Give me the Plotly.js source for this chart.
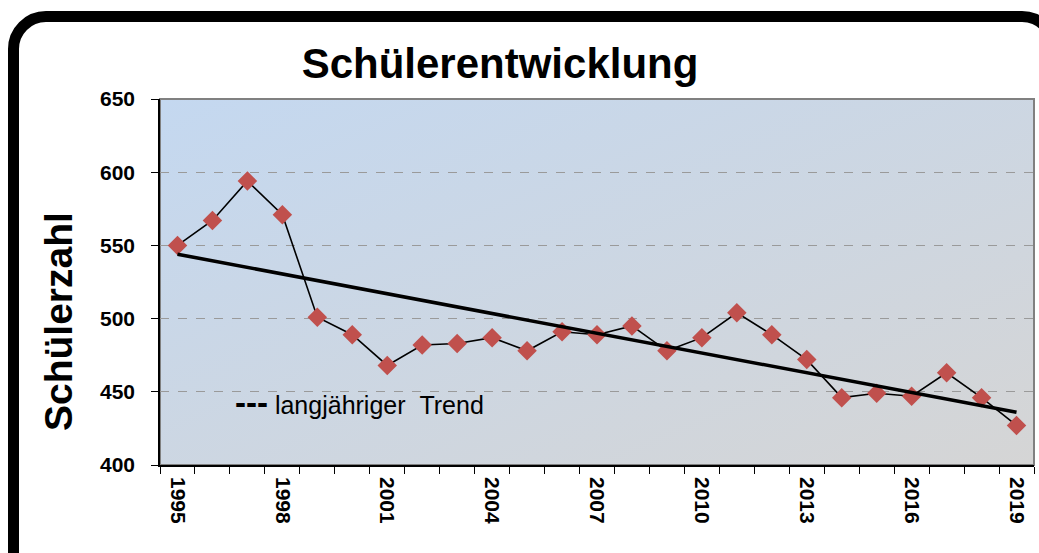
<!DOCTYPE html>
<html>
<head>
<meta charset="utf-8">
<script src="https://cdn.plot.ly/plotly-3.0.1.min.js"></script>
<style>
  body { margin: 0; background: #fff; }
  #rahmen { position: absolute; left: 8px; top: 11px; width: 1052px; height: 620px;
            border: 11px solid #000; border-radius: 38px; box-sizing: border-box; }
  #chart { position: absolute; left: 0; top: 0; width: 1039px; height: 553px; }
</style>
</head>
<body>
<div id="rahmen"></div>
<div id="chart"></div>
<script>
const jahre = [1995, 1996, 1997, 1998, 1999, 2000, 2001, 2002, 2003, 2004, 2005, 2006,
  2007, 2008, 2009, 2010, 2011, 2012, 2013, 2014, 2015, 2016, 2017, 2018, 2019];
const schueler = [550, 567, 594, 571, 501, 489, 468, 482, 483, 487, 478, 491,
  489, 495, 478, 487, 504, 489, 472, 446, 449, 447, 463, 446, 427];
const trendJahre = [1995, 2019];
const trendWerte = [544, 436];

const verlauf = encodeURIComponent(
  "<svg xmlns='http://www.w3.org/2000/svg' width='100' height='100' preserveAspectRatio='none'>" +
  "<defs><linearGradient id='g' x1='0' y1='0' x2='1' y2='1'>" +
  "<stop offset='0' stop-color='#c4d8f0'/><stop offset='1' stop-color='#d5d5d5'/>" +
  "</linearGradient></defs><rect width='100' height='100' fill='url(#g)'/></svg>");

const schrift = "Liberation Sans, Arial, sans-serif";

Plotly.newPlot("chart", [{
  x: jahre,
  y: schueler,
  mode: "lines+markers",
  line: { color: "#000", width: 1.6 },
  marker: { symbol: "diamond", size: 15, color: "#c0504d" },
  type: "scatter",
  hoverinfo: "x+y"
}, {
  x: trendJahre,
  y: trendWerte,
  mode: "lines",
  line: { color: "#000", width: 3.5 },
  type: "scatter"
}], {
  width: 1039,
  height: 553,
  showlegend: false,
  paper_bgcolor: "rgba(0,0,0,0)",
  plot_bgcolor: "rgba(0,0,0,0)",
  margin: { l: 160, r: 5, t: 99, b: 88 },
  font: { family: schrift, color: "#000" },
  title: {
    text: "Schülerentwicklung",
    font: { size: 42, weight: "bold", family: schrift },
    xref: "container", x: 500 / 1039, xanchor: "center",
    yref: "container", y: 1 - 63 / 553, yanchor: "middle"
  },
  xaxis: {
    range: [1994.5, 2019.5],
    tickmode: "linear", tick0: 1995, dtick: 3,
    ticks: "", tickangle: 90,
    ticklabelstandoff: 6,
    tickfont: { size: 21, weight: "bold" },
    showgrid: false, zeroline: false,
    showline: true, linecolor: "#000", linewidth: 1.5,
    minor: { ticks: "outside", tick0: 1994.5, dtick: 1, ticklen: 7, tickcolor: "#000", showgrid: false }
  },
  yaxis: {
    range: [400, 650], dtick: 50,
    ticks: "outside", ticklen: 7, tickcolor: "#000",
    ticklabelstandoff: 12,
    tickfont: { size: 21, weight: "bold" },
    showgrid: true, gridcolor: "#9a9a9a", griddash: "dash", gridwidth: 1,
    zeroline: false,
    showline: true, linecolor: "#000", linewidth: 1.5
  },
  images: [{
    source: "data:image/svg+xml;charset=utf-8," + verlauf,
    xref: "paper", yref: "paper", x: 0, y: 1, sizex: 1, sizey: 1,
    sizing: "stretch", layer: "below"
  }],
  shapes: [{
    type: "rect", xref: "paper", yref: "paper", x0: 0, x1: 1, y0: 0, y1: 1,
    line: { color: "#808080", width: 2 }, layer: "below"
  }],
  annotations: [{
    xref: "paper", yref: "paper", x: (58 - 160) / 874, y: (465 - 322) / 366,
    xanchor: "center", yanchor: "middle", showarrow: false, textangle: -90,
    text: "<b>Schülerzahl</b>",
    font: { size: 39, color: "#000" }
  }, {
    xref: "paper", yref: "y", x: 73 / 874, y: 443,
    xanchor: "left", yanchor: "middle", showarrow: false,
    text: "<span style='font-size:33px'><b>---</b></span> langjähriger\u00a0\u00a0Trend",
    font: { size: 25, color: "#000" }
  }]
}, { displayModeBar: false });
</script>
</body>
</html>
